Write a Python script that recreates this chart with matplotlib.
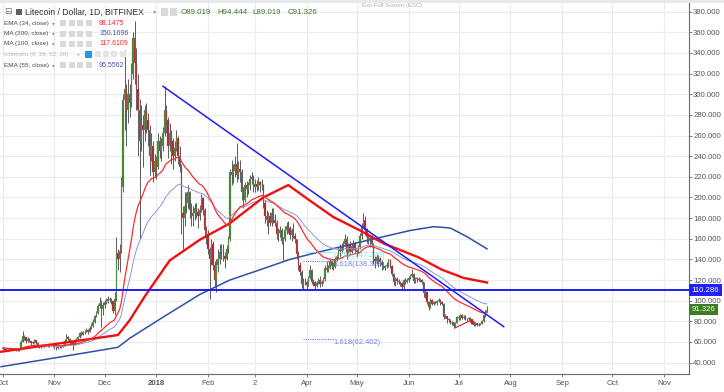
import numpy as np
import pandas as pd
import matplotlib
matplotlib.use('Agg')
import matplotlib.pyplot as plt
import matplotlib.dates as mdates
from matplotlib.patches import Rectangle
from matplotlib.transforms import blended_transform_factory
from matplotlib.ticker import FormatStrFormatter

plt.rcParams['font.family'] = ['Liberation Sans', 'DejaVu Sans']

# ---------------- data (daily LTC/USD, Bitfinex) ----------------
start_date = '2017-10-01'
first_open = 54.5

close_px = [
    54.0, 53.0, 52.0, 51.5, 52.5, 53.0, 52.8, 53.5, 52.0, 51.5, 52.5, 60.0, 66.0, 64.5, 61.0, 63.0, 60.5, 59.0, 59.5, 61.5, 59.0, 56.5, 55.5, 56.0, 57.0, 56.5, 57.0, 56.0, 57.5, 57.0, 56.0,
    55.0, 54.0, 55.5, 55.0, 55.5, 56.5, 61.0, 64.5, 63.0, 59.5, 60.5, 57.5, 61.0, 62.5, 64.5, 68.5, 67.0, 69.5, 70.0, 71.5, 70.0, 73.5, 75.0, 79.0, 85.0, 88.0, 95.0, 98.0, 92.0, 96.0,
    99.0, 100.0, 102.0, 101.0, 99.5, 90.0, 102.0, 146.0, 140.0, 148.0, 210.0, 294.0, 305.0, 285.0, 300.0, 292.0, 320.0, 355.0, 330.0, 305.0, 285.0, 255.0, 270.0, 265.0, 285.0, 275.0, 265.0, 240.0, 250.0, 225.0, 235.0,
    230, 255, 245, 250, 262, 285, 275, 250, 262, 255, 240, 248, 258, 240, 230, 185, 180, 192, 195, 205, 188, 182, 185, 190, 186, 182, 188, 199, 188, 168, 165,
    150, 140, 155, 135, 120, 135, 140, 147, 150, 143, 140, 150, 160, 225, 222, 226, 232, 222, 228, 225, 205, 198, 212, 208, 212, 218, 220, 210,
    213, 210, 215, 212, 212, 195, 182, 178, 182, 175, 185, 178, 175, 165, 166, 168, 158, 160, 168, 172, 170, 164, 168, 163, 160, 145, 135, 128, 116, 118, 118,
    115, 122, 130, 118, 118, 114, 117, 120, 116, 118, 121, 132, 130, 132, 138, 134, 133, 140, 143, 150, 148, 152, 155, 160, 146, 154, 147, 153, 155, 149,
    147, 152, 163, 172, 178, 168, 162, 160, 161, 155, 140, 138, 142, 140, 137, 135, 132, 134, 135, 139, 134, 126, 118, 121, 119, 118, 117, 113, 120, 118, 120,
    122, 124, 126, 119, 122, 121, 120, 120, 118, 107, 108, 99, 94, 101, 97, 99, 97.5, 100, 100.5, 99, 97, 84, 85, 82, 81, 78, 79, 75.5, 78.5, 84,
    83, 86.5, 83.5, 84.5, 82.5, 82, 83, 82, 80, 76, 78, 76, 77, 77.5, 80, 86, 89.019, 91.326,
]
high_px = [
    55.5, 55.0, 53.8, 52.8, 53.2, 53.8, 53.5, 54.5, 54.0, 53.0, 53.5, 61.5, 71.0, 67.0, 65.0, 64.5, 63.5, 61.0, 60.5, 63.0, 62.0, 59.5, 57.5, 57.0, 58.0, 57.5, 58.0, 57.5, 58.5, 58.0, 57.5,
    56.5, 55.5, 56.5, 56.0, 56.5, 58.0, 62.5, 68.0, 66.0, 63.5, 62.0, 61.0, 62.5, 63.5, 65.5, 70.0, 70.5, 71.0, 72.0, 73.5, 73.0, 75.0, 78.0, 82.0, 86.5, 90.0, 97.0, 103.5, 101.0, 99.0,
    101.0, 103.0, 105.0, 104.0, 102.5, 100.0, 108.0, 162.0, 150.0, 155.0, 220.0, 300.0, 343.0, 310.0, 315.0, 310.0, 330.0, 360.0, 371.0, 345.0, 320.0, 295.0, 290.0, 280.0, 290.0, 292.0, 282.0, 270.0, 262.0, 255.0, 242.0,
    240, 262, 260, 258, 268, 308, 290, 278, 272, 265, 258, 255, 265, 260, 250, 232, 192, 205, 205, 212, 206, 195, 192, 195, 195, 190, 193, 203, 200, 190, 172,
    168, 152, 160, 158, 138, 140, 150, 155, 155, 155, 147, 154, 163, 228, 236, 232, 240, 253, 235, 236, 228, 210, 215, 216, 215, 222, 225, 222,
    218, 217, 220, 216, 218, 213, 198, 188, 186, 186, 190, 190, 184, 178, 170, 172, 170, 162, 172, 176, 177, 172, 170, 175, 166, 160, 148, 137, 130, 122, 122,
    120, 124, 134.5, 131, 121, 119, 119, 122, 124, 120, 123, 135, 138, 135, 140, 139, 137, 142, 145, 152, 155, 156, 158, 165, 163, 156, 158, 156, 159, 157,
    150, 154, 166, 175, 185, 182, 170, 166, 163, 164, 156, 143, 145, 144, 142, 139, 137, 135, 137, 140, 140, 135, 127, 123, 123, 121, 119, 118, 121, 122, 122,
    124, 126, 130.5, 127, 123, 123, 123, 122, 121, 118, 110, 109, 100, 103, 102, 100, 100, 101, 103, 101.5, 100, 97.5, 87, 85, 83.5, 82, 80.5, 79.5, 79.5, 85,
    86, 87.5, 87, 86, 86, 83.5, 84.5, 84, 82.5, 80.5, 79, 78.5, 78.5, 78.5, 81, 87.5, 90.5, 94.444,
]
low_px = [
    52.0, 52.2, 51.2, 50.8, 51.0, 52.0, 52.0, 52.5, 51.5, 50.8, 51.2, 52.3, 59.5, 62.0, 59.0, 60.0, 59.5, 57.0, 58.0, 59.0, 58.0, 55.0, 54.5, 54.5, 55.5, 55.5, 56.0, 55.5, 55.5, 56.0, 55.0,
    53.5, 52.5, 53.5, 54.0, 54.5, 55.0, 56.0, 60.5, 61.5, 57.5, 58.0, 52.5, 57.0, 60.0, 62.0, 64.0, 65.5, 66.5, 68.0, 69.5, 68.0, 70.0, 72.5, 74.5, 78.5, 84.0, 87.5, 93.0, 74.5, 86.0,
    93.0, 97.0, 98.0, 98.5, 97.0, 88.0, 86.0, 100.0, 130.0, 128.0, 146.0, 205.0, 265.0, 250.0, 272.0, 278.0, 288.0, 315.0, 310.0, 285.0, 240.0, 160.0, 245.0, 230.0, 255.0, 262.0, 250.0, 222.0, 235.0, 215.0, 220.0,
    218, 228, 238, 235, 245, 260, 262, 238, 245, 232, 228, 235, 245, 232, 225, 165, 150, 172, 185, 190, 180, 172, 172, 178, 180, 170, 178, 186, 183, 162, 155,
    145, 102, 135, 130, 112, 108, 128, 136, 140, 138, 132, 139, 146, 158, 212, 214, 220, 215, 218, 215, 198, 190, 196, 200, 203, 207, 213, 205,
    205, 206, 207, 205, 207, 190, 175, 172, 165, 172, 172, 175, 172, 160, 158, 162, 155, 139, 158, 165, 166, 160, 158, 161, 156, 140, 130, 125, 112, 110, 115,
    110.5, 114, 121, 116, 114, 111, 113, 116, 113, 114, 117, 119, 128, 128, 131, 131, 130, 132, 138, 141, 142, 146, 149, 153, 140, 143, 145, 146, 149, 146,
    142, 146, 150, 160, 170, 164, 156, 155, 152, 152, 136, 132, 136, 133, 134, 130, 131, 130, 132, 133, 132, 124, 115, 114, 116, 116, 114, 110, 110.5, 116, 117,
    118, 121, 123, 117, 117, 118, 119, 118, 116, 104, 103, 97, 91, 93, 96, 96, 96.5, 96, 99, 96, 96, 82, 83, 78, 79, 77, 76, 73.5, 74.5, 78,
    81, 81.5, 82.5, 82, 81.5, 80, 81, 81, 79, 75, 75.5, 75, 75.5, 76, 77, 79.5, 84.5, 89.019,
]

# moving averages that need history before the window
ma200_dates = ['2017-09-30', '2017-11-01', '2017-12-09', '2017-12-16', '2018-01-03', '2018-01-21',
               '2018-01-27', '2018-02-14', '2018-03-06', '2018-03-22', '2018-04-03', '2018-05-01',
               '2018-06-02', '2018-06-16', '2018-06-26', '2018-07-06', '2018-07-18']
ma200_vals = [36, 44.5, 54.8, 63.5, 82, 100, 106, 120, 131, 140, 145, 156, 168, 171.7, 170.4, 162, 150.17]

ma100_dates = ['2017-09-30', '2017-12-09', '2017-12-16', '2017-12-25', '2018-01-09', '2018-01-27',
               '2018-02-14', '2018-03-06', '2018-03-21', '2018-04-02', '2018-04-17', '2018-05-03',
               '2018-05-17', '2018-06-07', '2018-06-21', '2018-07-04', '2018-07-18']
ma100_vals = [50.5, 66.7, 81, 104, 139, 159, 175, 200, 212, 198, 181, 168, 155.5, 142, 130, 122, 117.61]

price_ticks = list(range(40, 381, 20))
month_ticks = ['2017-10-01', '2017-11-01', '2017-12-01', '2018-01-01', '2018-02-01', '2018-03-01',
               '2018-04-01', '2018-05-01', '2018-06-01', '2018-07-01', '2018-08-01', '2018-09-01',
               '2018-10-01', '2018-11-01']
month_labels = ['Oct', 'Nov', 'Dec', '2018', 'Feb', '2', 'Apr', 'May', 'Jun', 'Jul', 'Aug', 'Sep', 'Oct', 'Nov']

support_level = 110.286
last_close = 91.326
trend_dates = ['2018-01-05', '2018-07-28']
trend_vals = [307.7, 74.8]
fib_start, fib_end = '2018-03-30', '2018-04-17'
fib_levels = [147.279, 138.328, 62.402]
fib_texts = ['0.786(147.279)', '1.618(138.328)', '1.618(62.402)']
fib_colors = ['#7fe3e3', '#6f7ff0', '#6f7ff0']
arrow_dates = ['2018-06-28 18:00', '2018-07-08 18:00', '2018-07-09 10:00']
arrow_vals = [73.5, 81.3, 73.5]

legend_rows = ['EMA (34, close)', 'MA (200, close)', 'MA (100, close)', 'Ichimoku (9, 26, 52, 26)', 'EMA (55, close)']
legend_vals = ['88.1475', '150.1696', '117.6109', '', '96.5562']
ohlc_text = ['O89.019', 'H94.444', 'L89.019', 'C91.326']

# ---------------- build ----------------
W, H = 724, 392
dates = pd.date_range(start_date, periods=len(close_px), freq='D')
x = mdates.date2num(dates)
c = np.array(close_px, float)
o = np.concatenate([[first_open], c[:-1]])
h = np.maximum(np.array(high_px, float), np.maximum(o, c))
l = np.minimum(np.array(low_px, float), np.minimum(o, c))

ema34 = pd.Series(c).ewm(span=34, adjust=False).mean().values
ema55 = pd.Series(c).ewm(span=55, adjust=False).mean().values

fig = plt.figure(figsize=(W / 100, H / 100), dpi=100)
fig.patch.set_facecolor('white')
ax = fig.add_axes([0, 1 - 374 / H, 689 / W, 371 / H])

ppd = 1.67
nov1 = mdates.date2num(pd.Timestamp('2017-11-01'))
x0 = nov1 - 54.5 / ppd
ax.set_xlim(x0, x0 + 689 / ppd)
ax.set_ylim(380 - (374 - 11.7) / 1.032, 380 + (11.7 - 3) / 1.032)

grid_c = '#ececec'
for t in price_ticks:
    ax.axhline(t, color=grid_c, lw=0.8, zorder=0)
for d in month_ticks:
    ax.axvline(mdates.date2num(pd.Timestamp(d)), color=grid_c, lw=0.8, zorder=0)

up = c >= o
cols = np.where(up, '#3d8b25', '#c0181b')
ax.vlines(x, l, h, color='#5a5a5a', lw=0.7, zorder=3)
body_h = np.maximum(np.abs(c - o), 0.4)
ax.bar(x, body_h, bottom=np.minimum(o, c), width=0.8, color=cols, edgecolor='#8a8a8a', lw=0.2, zorder=4)

ax.plot(mdates.date2num(pd.to_datetime(ma200_dates)), ma200_vals, color='#2f4fa8', lw=1.1, zorder=5)
ax.plot(x, ema55, color='#8a97d6', lw=0.7, zorder=5)
ax.plot(mdates.date2num(pd.to_datetime(ma100_dates)), ma100_vals, color='#ee1111', lw=1.7, zorder=5)
ax.plot(x, ema34, color='#ff2b2b', lw=0.9, zorder=5)

ax.axhline(support_level, color='#1c1cff', lw=1.4, zorder=6)
ax.plot(mdates.date2num(pd.to_datetime(trend_dates)), trend_vals, color='#1c1cff', lw=1.1, zorder=6)

fx0 = mdates.date2num(pd.Timestamp(fib_start))
fx1 = mdates.date2num(pd.Timestamp(fib_end))
for lv, tx, col in zip(fib_levels, fib_texts, fib_colors):
    ax.plot([fx0, fx1], [lv, lv], color=col, lw=0.8, ls=(0, (1, 1)), zorder=6)
    ax.text(fx1 + 0.3, lv - 3.3, tx, color=col, fontsize=5.4, ha='left', va='center', zorder=7)

ax_x = mdates.date2num(pd.to_datetime(arrow_dates))
ax.plot(ax_x[:2], arrow_vals[:2], color='#c62020', lw=0.8, zorder=7)
ax.annotate('', xy=(ax_x[2], arrow_vals[2]), xytext=(ax_x[1], arrow_vals[1]),
            arrowprops=dict(arrowstyle='-|>', color='#c62020', lw=0.8, mutation_scale=5), zorder=7)

# axes styling
for s in ['left', 'top']:
    ax.spines[s].set_visible(False)
for s in ['right', 'bottom']:
    ax.spines[s].set_color('#6a6a6a')
    ax.spines[s].set_linewidth(0.8)
ax.yaxis.tick_right()
ax.set_yticks(price_ticks)
ax.yaxis.set_major_formatter(FormatStrFormatter('%.3f'))
ax.tick_params(axis='y', length=2, width=0.6, color='#6a6a6a', pad=1, labelsize=5.6, labelcolor='#555555')
ax.set_xticks(mdates.date2num(pd.to_datetime(month_ticks)))
ax.set_xticklabels(month_labels)
ax.tick_params(axis='x', length=2.5, width=0.6, color='#6a6a6a', pad=1.5, labelsize=5.6, labelcolor='#555555')
for lab in ax.get_xticklabels():
    if lab.get_text() == '2018':
        lab.set_fontweight('bold')

trans = blended_transform_factory(ax.transAxes, ax.transData)
ax.text(1.004, support_level, f'{support_level:.3f}', transform=trans, ha='left', va='center',
        color='white', fontsize=5.6, clip_on=False, zorder=10,
        bbox=dict(boxstyle='square,pad=0.3', fc='#1f1fff', ec='none'))
ax.text(1.004, last_close, f'{last_close:.3f}', transform=trans, ha='left', va='center',
        color='white', fontsize=5.6, clip_on=False, zorder=10,
        bbox=dict(boxstyle='square,pad=0.3', fc='#3a7d22', ec='none'))

# ---------------- header / legend ----------------
def T(px, py, s, **kw):
    fig.text(px / W, 1 - py / H, s, ha=kw.pop('ha', 'left'), va=kw.pop('va', 'center'), **kw)

def box(px, py, w=6, hh=6, fc='#d9d9d9'):
    fig.patches.append(Rectangle((px / W, 1 - (py + hh / 2) / H), w / W, hh / H,
                                 transform=fig.transFigure, fc=fc, ec='none', zorder=20))

fig.patches.append(Rectangle((0, 1 - 3 / H), 1, 3 / H, transform=fig.transFigure, fc='#e6e9ee', ec='none'))
T(392, 5.5, 'Exit Full Screen (ESC)', fontsize=4.3, color='#b0b0b0', ha='center')

T(4, 12, '\u229f', fontsize=6.5, color='#777777', family=['DejaVu Sans'])
box(16, 12, 6, 6, '#606060')
T(25, 12, 'Litecoin / Dollar, 1D, BITFINEX', fontsize=6.2, color='#333333')
T(153, 12, '\u25be', fontsize=4.5, color='#999999', family=['DejaVu Sans'])
box(161, 12, 7, 7)
box(170, 12, 7, 7)
ox = [181, 217, 252, 288]
for px_, s in zip(ox, ohlc_text):
    T(px_, 12, s, fontsize=5.7, color='#3a7a2a')

row_y = [23.3, 33.5, 43.8, 54.3, 65.2]
val_cols = ['#ff2a2a', '#3f51b5', '#ff2a2a', '#3f51b5', '#3f51b5']
for i, (name, val, yy) in enumerate(zip(legend_rows, legend_vals, row_y)):
    if i == 3:
        T(4, yy, name, fontsize=4.4, color='#b8b8b8')
        T(77, yy, '\u25be', fontsize=4.0, color='#c8c8c8', family=['DejaVu Sans'])
        box(85, yy, 7, 7, '#2196f3')
        for bx in [95, 103, 111, 120]:
            box(bx, yy, 6, 6, '#e4e4e4')
    else:
        T(4, yy, name, fontsize=4.6, color='#4a4a4a')
        T(52, yy, '\u25be', fontsize=4.0, color='#999999', family=['DejaVu Sans'])
        for bx in [60, 68.5, 77, 86]:
            box(bx, yy, 6, 6)
        T(99, yy, val, fontsize=5.0, color=val_cols[i])

fig.savefig('out.png', dpi=100, facecolor='white')
